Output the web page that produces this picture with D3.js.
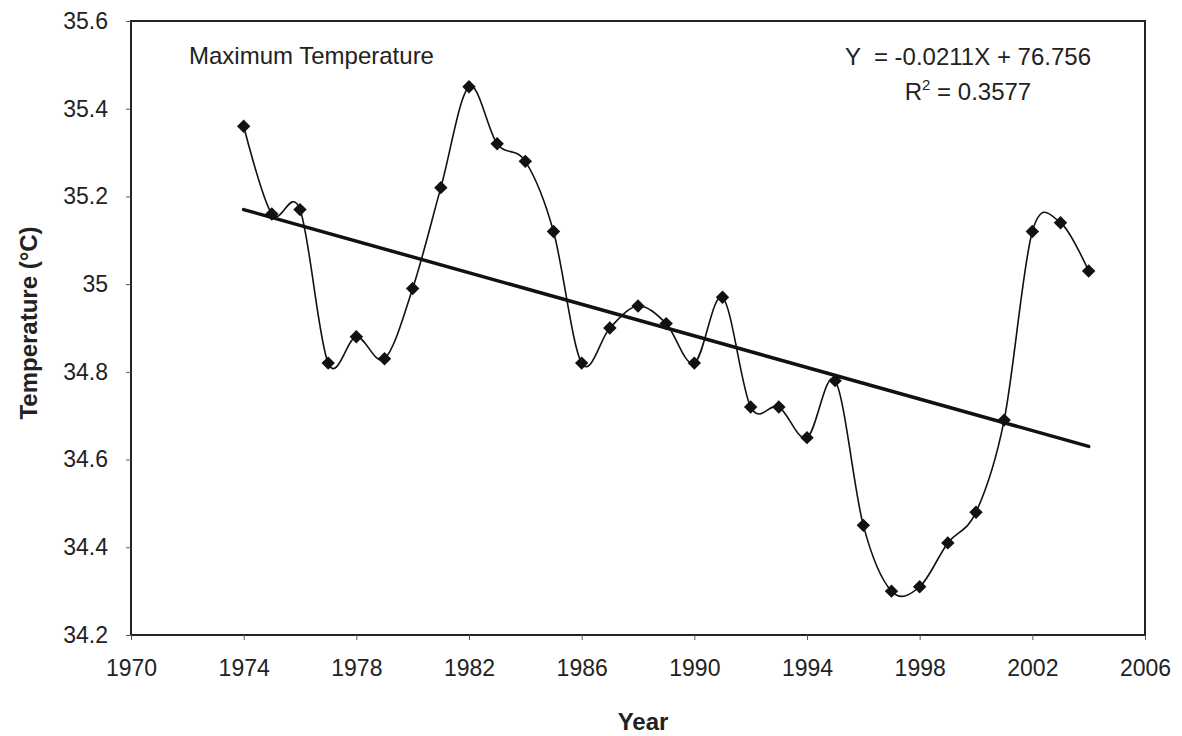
<!DOCTYPE html>
<html>
<head>
<meta charset="utf-8">
<script src="https://cdn.jsdelivr.net/npm/d3@7"></script>
<style>
  body { margin: 0; background: #fff; }
  svg { display: block; }
  text { font-family: "Liberation Sans", Arial, sans-serif; fill: #222; }
</style>
</head>
<body>
<svg id="chart" width="1182" height="736"></svg>
<script>
const years = [1974,1975,1976,1977,1978,1979,1980,1981,1982,1983,1984,1985,1986,1987,1988,1989,1990,
               1991,1992,1993,1994,1995,1996,1997,1998,1999,2000,2001,2002,2003,2004];
const maxTemp = [35.36,35.16,35.17,34.82,34.88,34.83,34.99,35.22,35.45,35.32,35.28,35.12,34.82,34.90,34.95,34.91,34.82,
                 34.97,34.72,34.72,34.65,34.78,34.45,34.30,34.31,34.41,34.48,34.69,35.12,35.14,35.03];
const trendYears = [1974, 2004];
const trendValues = [35.17, 34.63];
const xTicks = [1970,1974,1978,1982,1986,1990,1994,1998,2002,2006];
const yTicks = [34.2,34.4,34.6,34.8,35.0,35.2,35.4,35.6];
const chartLabel = "Maximum Temperature";
const eqLabel = "Y  = -0.0211X + 76.756";
const r2Value = "0.3577";

const svg = d3.select("#chart");
const m = {left: 131, right: 1145, top: 21, bottom: 635};

const x = d3.scaleLinear().domain([1970, 2006]).range([m.left, m.right]);
const y = d3.scaleLinear().domain([34.2, 35.6]).range([m.bottom, m.top]);

// frame
svg.append("rect")
  .attr("x", m.left).attr("y", m.top)
  .attr("width", m.right - m.left).attr("height", m.bottom - m.top)
  .attr("fill", "none").attr("stroke", "#222").attr("stroke-width", 2);

// x axis
const xAxis = svg.append("g")
  .attr("transform", `translate(0,${m.bottom})`)
  .call(d3.axisBottom(x).tickValues(xTicks).tickFormat(d3.format("d")).tickSize(5).tickPadding(20));
xAxis.select(".domain").remove();
xAxis.selectAll("line").attr("stroke", "#555").attr("stroke-width", 1);
xAxis.selectAll("text").style("font-size", "23px").attr("fill", "#2a2a2a");

// y axis
const yAxis = svg.append("g")
  .attr("transform", `translate(${m.left},0)`)
  .call(d3.axisLeft(y).tickValues(yTicks).tickFormat(d => String(+d.toFixed(1))).tickSize(5).tickPadding(18));
yAxis.select(".domain").remove();
yAxis.selectAll("line").attr("stroke", "#555").attr("stroke-width", 1);
yAxis.selectAll("text").style("font-size", "23px").attr("fill", "#2a2a2a");

// axis titles
svg.append("text")
  .attr("x", 643).attr("y", 730)
  .attr("text-anchor", "middle")
  .style("font-size", "24px").style("font-weight", "bold")
  .text("Year");

svg.append("text")
  .attr("transform", "translate(37,323) rotate(-90)")
  .attr("text-anchor", "middle")
  .style("font-size", "24px").style("font-weight", "bold")
  .text("Temperature (°C)");

// trend line
const pts = years.map((yr, i) => ({yr, v: maxTemp[i]}));
svg.append("line")
  .attr("x1", x(trendYears[0])).attr("y1", y(trendValues[0]))
  .attr("x2", x(trendYears[1])).attr("y2", y(trendValues[1]))
  .attr("stroke", "#111").attr("stroke-width", 3.5).attr("stroke-linecap", "round");

// smoothed data line
const line = d3.line()
  .x(d => x(d.yr)).y(d => y(d.v))
  .curve(d3.curveCatmullRom.alpha(0));
svg.append("path")
  .datum(pts)
  .attr("d", line)
  .attr("fill", "none").attr("stroke", "#111").attr("stroke-width", 1.6);

// markers (square rotated 45°)
svg.append("g").selectAll("path")
  .data(pts).join("path")
  .attr("transform", d => `translate(${x(d.yr)},${y(d.v)}) rotate(45)`)
  .attr("d", d3.symbol().type(d3.symbolSquare).size(90))
  .attr("fill", "#111");

// annotations
svg.append("text")
  .attr("x", 189).attr("y", 64)
  .style("font-size", "24px")
  .text(chartLabel);

svg.append("text")
  .attr("x", 968).attr("y", 65)
  .attr("text-anchor", "middle")
  .style("font-size", "24px")
  .attr("xml:space", "preserve")
  .text(eqLabel);

const r2 = svg.append("text")
  .attr("x", 968).attr("y", 100)
  .attr("text-anchor", "middle")
  .style("font-size", "24px");
r2.append("tspan").text("R");
r2.append("tspan").attr("dy", -10).style("font-size", "15px").text("2");
r2.append("tspan").attr("dy", 10).text(" = " + r2Value);
</script>
</body>
</html>
